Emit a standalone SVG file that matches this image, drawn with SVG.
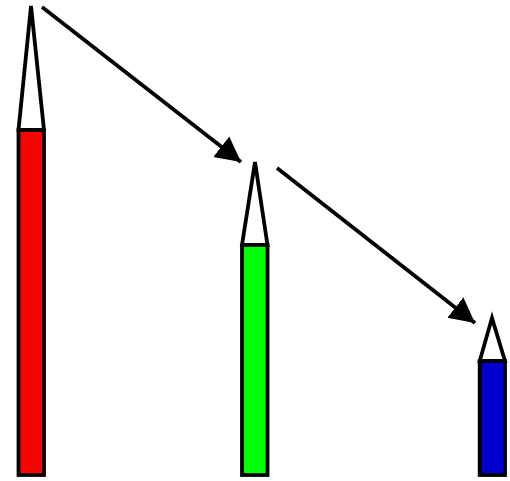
<svg xmlns="http://www.w3.org/2000/svg" width="510" height="481" viewBox="0 0 510 481">
<style>
.tip{fill:#fff;stroke:#000;stroke-width:3.8;stroke-linejoin:miter}
.bar{stroke:#000;stroke-width:3.8}
.conn{stroke:#000;stroke-width:3.8;fill:none}
</style>
<defs>
<marker id="ah" markerUnits="userSpaceOnUse" markerWidth="26" markerHeight="28" refX="25" refY="14" orient="auto" viewBox="0 0 26 28">
<path d="M0,1 L25,14 L0,27 z" fill="#000"/>
</marker>
</defs>
<rect width="510" height="481" fill="#fff"/>
<g id="red">
<polygon class="tip" points="31,6 18.5,130 44,130"/>
<rect class="bar" x="18.5" y="130" width="25.5" height="345" fill="#ff0000"/>
</g>
<g id="green">
<polygon class="tip" points="255,162 242,245 267.5,245"/>
<rect class="bar" x="242" y="245" width="25.5" height="230" fill="#00ff00"/>
</g>
<g id="blue">
<polygon class="tip" points="492,318 479.7,361 505,361"/>
<rect class="bar" x="479.7" y="361" width="25.3" height="114" fill="#0000cc"/>
</g>
<g id="connectors">
<line class="conn" x1="42" y1="7" x2="241" y2="162" marker-end="url(#ah)"/>
<line class="conn" x1="277" y1="168" x2="475" y2="323" marker-end="url(#ah)"/>
</g>
</svg>
